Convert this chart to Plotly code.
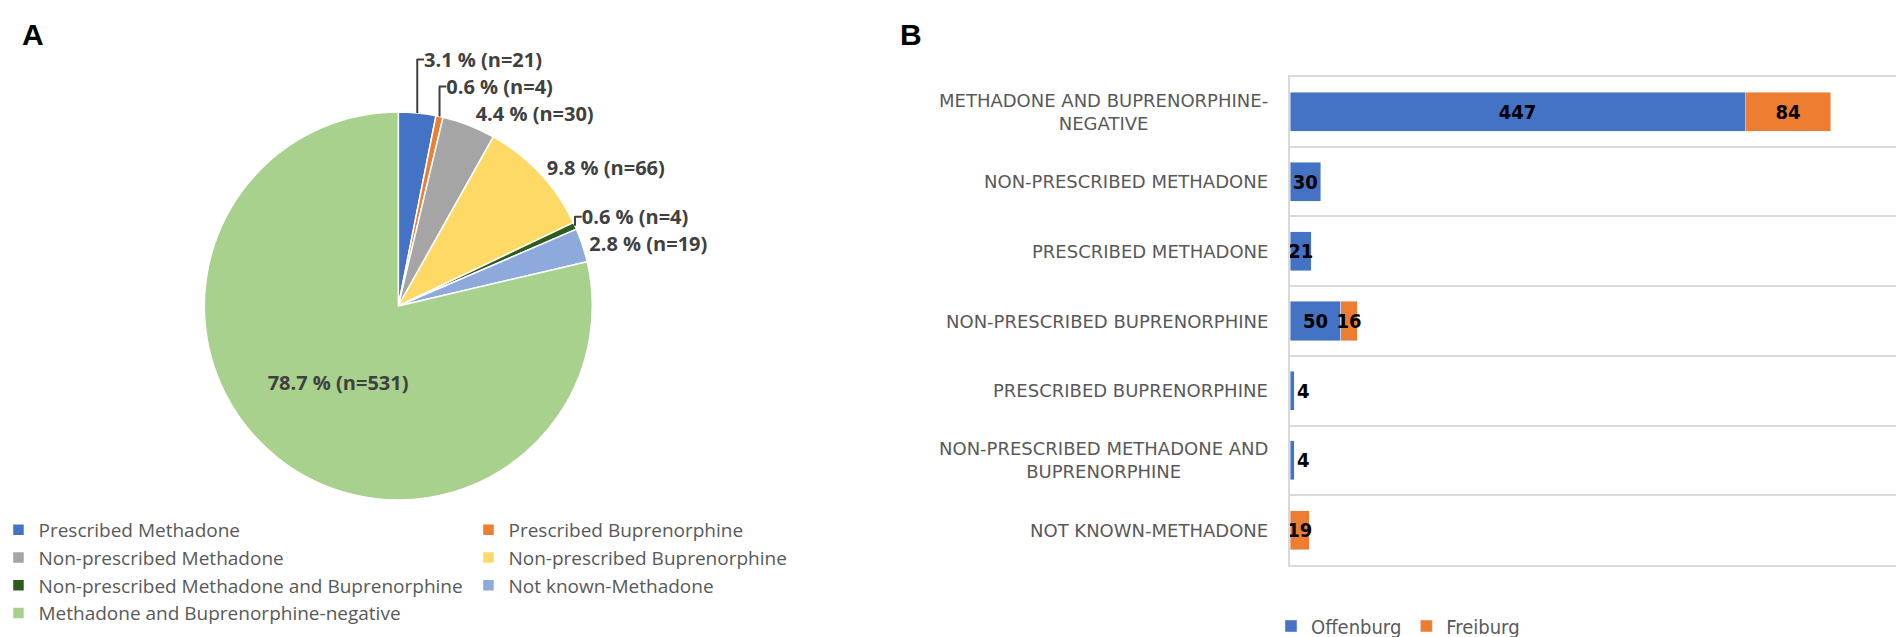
import plotly.graph_objects as go

# ---------------- data ----------------
# Panel A: pie
slice_labels = [
    "Prescribed Methadone",
    "Prescribed Buprenorphine",
    "Non-prescribed Methadone",
    "Non-prescribed Buprenorphine",
    "Non-prescribed Methadone and Buprenorphine",
    "Not known-Methadone",
    "Methadone and Buprenorphine-negative",
]
slice_counts = [21, 4, 30, 66, 4, 19, 531]
slice_colors = ["#4472C4", "#ED7D31", "#A5A5A5", "#FFD966", "#2E5B1E", "#8EA9DB", "#A9D18E"]

# Panel B: stacked horizontal bars
bar_categories = [
    "Methadone and Buprenorphine-negative",
    "Non-prescribed Methadone",
    "Prescribed Methadone",
    "Non-prescribed Buprenorphine",
    "Prescribed Buprenorphine",
    "Non-prescribed Methadone and Buprenorphine",
    "Not known-Methadone",
]
bar_tick_labels = [
    "METHADONE AND BUPRENORPHINE-<br>NEGATIVE",
    "NON-PRESCRIBED METHADONE",
    "PRESCRIBED METHADONE",
    "NON-PRESCRIBED BUPRENORPHINE",
    "PRESCRIBED BUPRENORPHINE",
    "NON-PRESCRIBED METHADONE AND<br>BUPRENORPHINE",
    "NOT KNOWN-METHADONE",
]
offenburg = [447, 30, 21, 50, 4, 4, None]
freiburg = [84, None, None, 16, None, None, 19]
offenburg_textpos = ["inside", "inside", "inside", "inside", "outside", "outside", "none"]
freiburg_textpos = ["inside", "none", "none", "inside", "none", "none", "inside"]

# ---------------- figure ----------------
total = sum(slice_counts)
pie_text = [f"{v / total * 100:.1f} % (n={v})" for v in slice_counts]
pie_textpos = ["outside"] * 6 + ["inside"]

fig = go.Figure()

fig.add_trace(go.Pie(
    labels=slice_labels,
    values=slice_counts,
    sort=False,
    direction="clockwise",
    rotation=0,
    text=pie_text,
    textinfo="text",
    textposition=pie_textpos,
    insidetextorientation="horizontal",
    textfont=dict(family="Open Sans", size=20, color="#404040", weight="bold"),
    marker=dict(colors=slice_colors, line=dict(color="white", width=1.5)),
    domain=dict(x=[0.05, 0.36], y=[1 - 492 / 637, 1 - 104 / 637]),
    hoverinfo="skip",
    legend="legend",
))

def labels_for(vals):
    return ["" if v is None else str(v) for v in vals]

fig.add_trace(go.Bar(
    name="Offenburg", y=bar_categories, x=offenburg, orientation="h",
    marker=dict(color="#4472C4"),
    text=labels_for(offenburg), textposition=offenburg_textpos,
    textangle=0, constraintext="none", insidetextanchor="middle",
    textfont=dict(family="DejaVu Sans Condensed", size=20, color="black", weight="bold"),
    hoverinfo="skip", legend="legend2",
))
fig.add_trace(go.Bar(
    name="Freiburg", y=bar_categories, x=freiburg, orientation="h",
    marker=dict(color="#ED7D31"),
    text=labels_for(freiburg), textposition=freiburg_textpos,
    textangle=0, constraintext="none", insidetextanchor="middle",
    textfont=dict(family="DejaVu Sans Condensed", size=20, color="black", weight="bold"),
    hoverinfo="skip", legend="legend2",
))

annotations = [
    dict(text="<b>A</b>", x=12 / 1904, y=1 - 26 / 637, xref="paper", yref="paper",
         xanchor="left", yanchor="middle", showarrow=False,
         font=dict(family="Liberation Sans", size=30, color="black")),
    dict(text="<b>B</b>", x=890 / 1904, y=1 - 27 / 637, xref="paper", yref="paper",
         xanchor="left", yanchor="middle", showarrow=False,
         font=dict(family="Liberation Sans", size=30, color="black")),
]
for cat, lab in zip(bar_categories, bar_tick_labels):
    annotations.append(dict(
        text=lab, x=1262 / 1904, y=cat, xref="paper", yref="y",
        xanchor="right", yanchor="middle", align="center", showarrow=False,
        font=dict(family="DejaVu Sans", size=18, color="#595959"),
    ))

fig.update_layout(
    width=1904, height=637,
    margin=dict(l=0, r=0, t=0, b=0, autoexpand=False),
    paper_bgcolor="white", plot_bgcolor="white",
    barmode="stack", bargap=0.44,
    showlegend=True,
    xaxis=dict(domain=[1282 / 1904, 1893 / 1904], range=[0, 600],
               showgrid=False, showticklabels=False, zeroline=False,
               showline=True, mirror=True, linecolor="#D9D9D9", linewidth=1.5,
               ticks="", fixedrange=True),
    yaxis=dict(domain=[1 - 557 / 637, 1 - 69 / 637], type="category",
               categoryorder="array", categoryarray=bar_categories,
               autorange="reversed", tickson="boundaries",
               showgrid=True, gridcolor="#D9D9D9", gridwidth=1.5,
               showticklabels=False, ticks="",
               showline=True, linecolor="#D9D9D9", linewidth=1.5,
               zeroline=False, fixedrange=True),
    legend=dict(orientation="h", x=-0.005, y=1 - 503 / 637,
                xanchor="left", yanchor="top",
                entrywidth=425, entrywidthmode="pixels",
                font=dict(family="Open Sans", size=19, color="#595959"),
                bgcolor="rgba(0,0,0,0)", traceorder="normal"),
    legend2=dict(orientation="h", x=1263 / 1904, y=1 - 618 / 637,
                 xanchor="left", yanchor="middle", traceorder="normal",
                 font=dict(family="DejaVu Sans Condensed", size=20, color="#595959"),
                 bgcolor="rgba(0,0,0,0)"),
    annotations=annotations,
)

fig.write_html("out.html")
